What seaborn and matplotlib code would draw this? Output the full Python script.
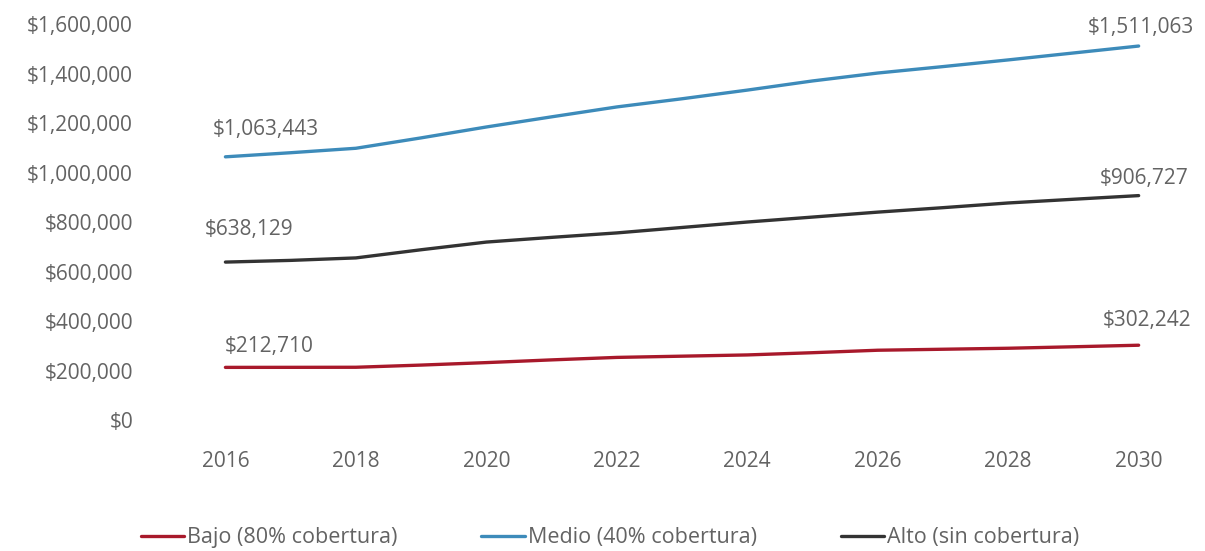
import matplotlib
matplotlib.use("Agg")
import matplotlib.pyplot as plt
import matplotlib.ticker as mticker
from matplotlib.lines import Line2D
import seaborn as sns
import pandas as pd

# Annual cost projection per scenario
years = list(range(2016, 2031))
bajo = [212710, 212900, 213200, 222000, 232000, 243000, 253000, 258000,
        263000, 272000, 282000, 286000, 290000, 296000, 302242]
medio = [1063443, 1080000, 1098000, 1140000, 1184000, 1225000, 1265000, 1298000,
         1333000, 1370000, 1402000, 1428000, 1455000, 1483000, 1511063]
alto = [638129, 645000, 655000, 688000, 719000, 738000, 756000, 778000,
        800000, 820000, 840000, 858000, 877000, 892000, 906727]
series_names = ["Bajo (80% cobertura)", "Medio (40% cobertura)", "Alto (sin cobertura)"]
colors = ["#A8192B", "#3D8BBA", "#333333"]
x_ticks = list(range(2016, 2031, 2))
y_ticks = list(range(0, 1600001, 200000))

df = pd.DataFrame({
    "year": years * 3,
    "value": bajo + medio + alto,
    "scenario": [series_names[0]] * len(years) + [series_names[1]] * len(years)
                + [series_names[2]] * len(years),
})

sns.set_theme(style="white")
plt.rcParams["font.family"] = ["Open Sans", "DejaVu Sans"]
text_color = "#636363"
fs = 15

fig = plt.figure(figsize=(12.05, 5.51), dpi=100)
ax = fig.add_axes([0.160, 0.2377, 0.812, 0.7187])

sns.lineplot(data=df, x="year", y="value", hue="scenario", hue_order=series_names,
             palette=colors, linewidth=2.4, ax=ax, legend=False)

ax.set_xlim(2015.5, 2030.5)
ax.set_ylim(0, 1600000)
ax.set_xticks(x_ticks)
ax.set_yticks(y_ticks)
ax.yaxis.set_major_formatter(mticker.FuncFormatter(lambda v, p: f"${v:,.0f}"))
ax.tick_params(axis="x", length=0, pad=22, labelsize=fs, labelcolor=text_color)
ax.tick_params(axis="y", length=0, pad=43, labelsize=fs, labelcolor=text_color)
ax.set_xlabel("")
ax.set_ylabel("")
for s in ax.spines.values():
    s.set_visible(False)
ax.grid(False)

# End-point value labels
label_offsets = {
    0: ((44, 21), (8, 25)),
    1: ((40, 27), (2, 19)),
    2: ((24, 33), (5, 17)),
}
for i, vals in enumerate([bajo, medio, alto]):
    (l_off, r_off) = label_offsets[i]
    ax.annotate(f"${vals[0]:,.0f}", (years[0], vals[0]), xytext=l_off,
                textcoords="offset pixels", ha="center", va="center",
                fontsize=fs, color=text_color)
    ax.annotate(f"${vals[-1]:,.0f}", (years[-1], vals[-1]), xytext=r_off,
                textcoords="offset pixels", ha="center", va="center",
                fontsize=fs, color=text_color)

handles = [Line2D([0], [0], color=c, linewidth=2.4) for c in colors]
fig.legend(handles, series_names, loc="center", bbox_to_anchor=(610 / 1205, 1 - 538 / 551),
           ncol=3, frameon=False, fontsize=15.5, handlelength=2.0, handletextpad=0.15,
           columnspacing=3.9, labelcolor=text_color)

fig.savefig("out.png", dpi=100)
